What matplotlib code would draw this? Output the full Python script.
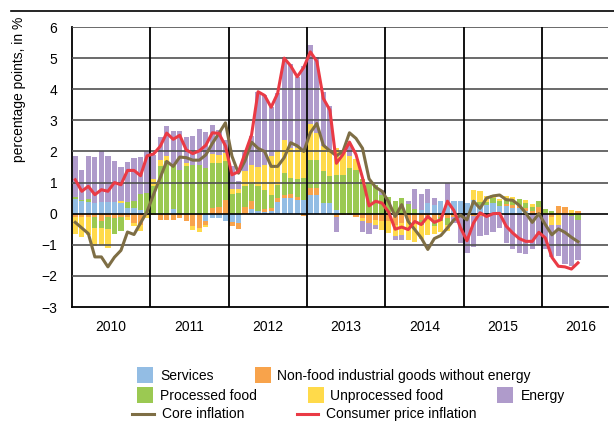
import matplotlib
matplotlib.use('Agg')
import matplotlib.pyplot as plt
import numpy as np
from matplotlib.patches import Rectangle
from matplotlib.lines import Line2D

# ---------------- data (monthly, Jan 2010 - Jun 2016) ----------------
years = ['2010', '2011', '2012', '2013', '2014', '2015', '2016']

services = [0.47, 0.42, 0.38, 0.34, 0.36, 0.38, 0.38, 0.34, 0.19, 0.18, 0.13, 0.02,
            0, 0, 0, 0.16, 0, 0, 0, 0, -0.25, -0.14, -0.14, -0.25,
            -0.27, -0.3, 0, 0.15, 0.1, 0.05, 0.1, 0.36, 0.5, 0.5, 0.43, 0.45,
            0.6, 0.6, 0.34, 0.34, 0.13, 0, 0, 0, 0, 0, 0, 0,
            0, 0, 0, 0, 0, 0.13, 0.34, 0.29, 0.4, 0.4, 0.4, 0.4,
            0.34, 0.45, 0.29, 0.29, 0.34, 0.24, 0.24, 0.18, 0.18, 0.1, 0, 0,
            0, 0, 0, 0, 0, 0]

nonfood = [-0.1, -0.1, -0.1, -0.1, -0.25, -0.1, -0.15, -0.1, -0.1, -0.3, -0.35, -0.05,
           -0.05, -0.2, -0.2, -0.2, -0.15, -0.25, -0.4, -0.45, -0.1, 0.18, 0.2, 0.43,
           -0.13, -0.18, 0.23, 0.25, 0, 0.1, 0.08, 0.14, 0.1, 0.13, 0.12, -0.06,
           0.22, 0.22, 0, 0, -0.1, -0.05, -0.05, -0.1, -0.15, -0.3, -0.2, -0.25,
           -0.25, -0.35, -0.3, -0.25, -0.3, -0.2, -0.15, -0.2, -0.1, -0.15, -0.1, 0,
           0, -0.08, -0.08, 0, 0, 0, 0.08, 0.1, 0.1, 0.08, 0.07, 0.23,
           0.02, -0.1, 0.26, 0.22, 0, 0.07]

processed = [0.07, 0.03, 0.09, -0.35, -0.2, -0.4, -0.5, -0.45, 0.19, 0.22, 0.51, 0.64,
             0.9, 1.52, 1.68, 1.36, 1.41, 1.52, 1.55, 1.55, 1.46, 1.44, 1.42, 1.25,
             0.64, 0.66, 0.65, 0.55, 0.8, 0.6, 0.43, 0.43, 0.7, 0.51, 0.57, 0.69,
             0.91, 0.9, 1.02, 0.86, 1.12, 1.25, 1.46, 1.41, 1.1, 0.98, 0.93, 0.6,
             0.55, 0.42, 0.5, 0.3, 0.15, -0.15, 0, -0.2, -0.15, -0.2, 0, 0,
             0, 0, 0.1, 0.08, 0.16, 0.16, 0.13, 0.16, 0.19, 0.15, 0.16, 0.17,
             0.14, 0.08, 0, 0, -0.08, -0.2]

unprocessed = [-0.55, -0.65, -0.6, -0.6, -0.55, -0.6, 0, 0.07, -0.1, -0.1, -0.2, -0.1,
               0.23, 0.21, 0.16, 0, 0, 0.1, -0.14, -0.15, -0.07, 0.29, 0.27, 0.26,
               0.16, 0.14, 0.5, 0.6, 0.6, 0.8, 1.23, 1.07, 1.07, 0.96, 0.98, 0.91,
               1.14, 0.86, 0.8, 0.85, 0.85, 0.8, 0.4, 0.35, -0.08, 0, -0.15, -0.26,
               -0.37, -0.37, -0.4, -0.6, -0.6, -0.45, -0.55, -0.25, -0.35, -0.2, 0, 0,
               0, 0.3, 0.33, 0.19, 0.1, 0.07, 0.13, 0.1, 0, 0.1, 0.09, 0,
               0, -0.25, -0.35, 0, 0.12, 0]

energy = [1.31, 0.96, 1.39, 1.49, 1.66, 1.46, 1.32, 1.1, 1.29, 1.38, 1.17, 1.34,
          0.77, 0.75, 0.98, 1.14, 1.25, 0.83, 0.95, 1.17, 1.18, 0.94, 0.8, 0.43,
          0.72, 0.24, 0.6, 0.95, 2.4, 2.25, 1.6, 1.87, 2.67, 2.72, 2.3, 2.7,
          2.55, 2.46, 1.76, 1.41, -0.5, 0, 0.35, 0, -0.35, -0.35, -0.15, 0.17,
          0, -0.13, -0.15, 0.1, 0.64, 0.5, 0.45, 0.21, 0, 0.58, -0.2, -0.94,
          -1.26, -1.0, -0.65, -0.67, -0.58, -0.47, -0.95, -1.15, -1.26, -1.3, -1.15, -1.0,
          -1.15, -1.05, -1.02, -1.63, -1.6, -1.3]

core = [-0.28, -0.46, -0.64, -1.39, -1.39, -1.71, -1.40, -1.18, -0.59, -0.67, -0.30, 0.07,
        0.62, 1.15, 1.68, 1.52, 1.82, 1.80, 1.72, 1.72, 1.89, 2.26, 2.58, 2.92,
        1.85, 1.30, 1.70, 2.30, 2.10, 2.00, 1.52, 1.52, 1.80, 2.28, 2.18, 2.00,
        2.60, 2.90, 2.20, 2.02, 1.86, 2.00, 2.60, 2.42, 2.10, 1.12, 0.85, 0.72,
        0.38, -0.09, 0.29, -0.25, -0.51, -0.78, -1.15, -0.80, -0.70, -0.46, -0.20, -0.05,
        -0.20, 0.40, 0.17, 0.50, 0.57, 0.60, 0.45, 0.43, 0.27, 0.02, -0.28, 0.00,
        -0.35, -0.68, -0.49, -0.60, -0.76, -0.90]

cpi = [1.09, 0.72, 0.88, 0.61, 0.77, 0.72, 1.00, 0.93, 1.39, 1.39, 1.22, 1.86,
       1.92, 2.16, 2.59, 2.39, 2.52, 2.05, 1.93, 2.02, 2.20, 2.60, 2.58, 2.18,
       1.25, 1.35, 1.94, 2.53, 3.92, 3.80, 3.42, 3.87, 5.00, 4.75, 4.40, 4.70,
       5.20, 4.90, 3.70, 3.33, 1.62, 1.90, 2.30, 1.90, 1.15, 0.25, 0.40, 0.34,
       0.05, -0.50, -0.43, -0.51, -0.25, -0.35, -0.09, -0.28, -0.19, 0.40, 0.10, -0.45,
       -0.87, -0.30, 0.03, -0.09, 0.00, 0.01, -0.40, -0.62, -0.80, -0.89, -0.89, -0.60,
       -0.78, -1.40, -1.69, -1.71, -1.78, -1.58]

components = ['Services', 'Non-food industrial goods without energy', 'Processed food',
              'Unprocessed food', 'Energy']
line_names = ['Core inflation', 'Consumer price inflation']

# ---------------- styling ----------------
plt.rcParams['font.family'] = ['Liberation Sans', 'DejaVu Sans']
plt.rcParams['axes.unicode_minus'] = True

colors = ['#93BDE4', '#F8A34B', '#9BC952', '#FFDA4A', '#AF9BCB']
core_col = '#7E6E45'
cpi_col = '#EA3A45'

W, H = 614, 423
fig = plt.figure(figsize=(W / 100, H / 100), dpi=100)
ax = fig.add_axes([72 / W, 1 - 307 / H, (608 - 72) / W, (307 - 27) / H])

n = len(cpi)
x = np.arange(n)
pos_base = np.zeros(n)
neg_base = np.zeros(n)
for vals, col in zip([services, nonfood, processed, unprocessed, energy], colors):
    v = np.array(vals, dtype=float)
    p = np.where(v > 0, v, 0.0)
    q = np.where(v < 0, v, 0.0)
    ax.bar(x, p, 0.8, bottom=pos_base, color=col, linewidth=0, zorder=2)
    ax.bar(x, q, 0.8, bottom=neg_base, color=col, linewidth=0, zorder=2)
    pos_base += p
    neg_base += q

ax.set_ylim(-3, 6)
ax.set_xlim(-0.5, 81.6)

for yv in range(-2, 7):
    ax.axhline(yv, color='black' if yv == 0 else '#505050', lw=1.2, zorder=3)
for k in range(1, 7):
    ax.axvline(12 * k - 0.5, color='black', lw=1.3, zorder=3)

ax.plot(x, core, color=core_col, lw=2.2, zorder=4, solid_joinstyle='round')
ax.plot(x, cpi, color=cpi_col, lw=2.2, zorder=5, solid_joinstyle='round')

for s in ['top', 'right']:
    ax.spines[s].set_visible(False)
for s in ['left', 'bottom']:
    ax.spines[s].set_color('black')
    ax.spines[s].set_linewidth(1.3)

ax.set_yticks(range(-3, 7))
ax.set_yticklabels([str(v).replace('-', '\u2212') for v in range(-3, 7)])
ax.set_xticks([12 * k + 5.5 for k in range(len(years))])
ax.set_xticklabels(years)
ax.tick_params(axis='y', length=0, labelsize=10, pad=10.5)
ax.tick_params(axis='x', length=0, labelsize=10, pad=9)

fig.text(19 / W, 1 - 89 / H, 'percentage points, in %', rotation=90,
         ha='center', va='center', fontsize=10)

# decorative top rule
fig.add_artist(Line2D([11 / W, 1.0], [1 - 11 / H] * 2, color='black', lw=1.2))

# ---------------- legend (manual placement) ----------------
def patch(px, py, col):
    fig.add_artist(Rectangle((px / W, 1 - (py + 8) / H), 16 / W, 16 / H,
                             facecolor=col, edgecolor='none', transform=fig.transFigure))

def label(px, py, txt):
    fig.text(px / W, 1 - py / H, txt, ha='left', va='center', fontsize=10)

patch(137, 375, colors[0]); label(160, 376, components[0])
patch(255, 375, colors[1]); label(277, 376, components[1])
patch(137, 395, colors[2]); label(160, 396, components[2])
patch(308, 395, colors[3]); label(330, 396, components[3])
patch(497, 395, colors[4]); label(521, 396, components[4])

fig.add_artist(Line2D([132 / W, 154 / W], [1 - 414 / H] * 2, color=core_col, lw=2.2))
label(162, 414, line_names[0])
fig.add_artist(Line2D([297 / W, 318 / W], [1 - 414 / H] * 2, color=cpi_col, lw=2.2))
label(326, 414, line_names[1])

fig.savefig('out.png', dpi=100)
